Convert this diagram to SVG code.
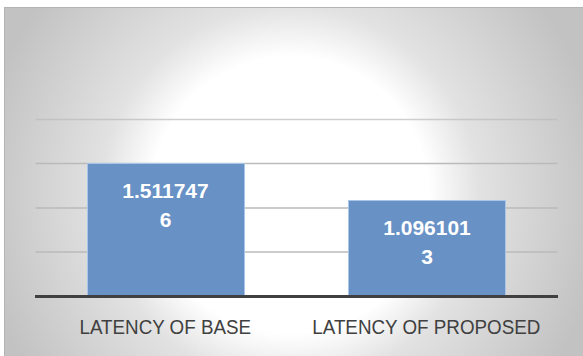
<svg xmlns="http://www.w3.org/2000/svg" width="583" height="356" viewBox="0 0 583 356">
<defs>
<radialGradient id="bg" gradientUnits="userSpaceOnUse" cx="290" cy="195" r="315">
<stop offset="0" stop-color="#ffffff"/>
<stop offset="0.44" stop-color="#ffffff"/>
<stop offset="0.6" stop-color="#e2e2e2"/>
<stop offset="1" stop-color="#c2c2c2"/>
</radialGradient>
<style>
.grid{stroke:#bababa;stroke-width:1.5;fill:none}
.bar{fill:#6891c6;stroke:#a9c5ea;stroke-width:1}
.val{font-family:"Liberation Sans",Arial,sans-serif;font-weight:bold;font-size:21px;fill:#ffffff;text-anchor:middle}
.cat{font-family:"Liberation Sans",Arial,sans-serif;font-size:20.5px;fill:#404040}
</style>
</defs>
<rect x="0" y="0" width="583" height="356" fill="#ffffff"/>
<rect x="4.5" y="7.5" width="590" height="360" fill="url(#bg)" stroke="#b4b4b4" stroke-width="1"/>
<g id="gridlines">
<line class="grid" x1="35.5" y1="119.5" x2="557.5" y2="119.5" stroke-opacity="0.7"/>
<line class="grid" x1="35.5" y1="163.5" x2="557.5" y2="163.5"/>
<line class="grid" x1="35.5" y1="208" x2="557.5" y2="208"/>
<line class="grid" x1="35.5" y1="252" x2="557.5" y2="252"/>
</g>
<g id="bar-base">
<rect class="bar" x="87.5" y="163.5" width="157" height="132.5"/>
<text class="val" x="165.5" y="198.3">1.511747</text>
<text class="val" x="165.5" y="227.3">6</text>
</g>
<g id="bar-proposed">
<rect class="bar" x="348.5" y="200.5" width="157" height="95.5"/>
<text class="val" x="427" y="235">1.096101</text>
<text class="val" x="427" y="264">3</text>
</g>
<g id="axis">
<line x1="35" y1="296.5" x2="558" y2="296.5" stroke="#404040" stroke-width="3"/>
</g>
<g id="labels">
<text class="cat" x="79.5" y="334.3" textLength="171.5" lengthAdjust="spacingAndGlyphs">LATENCY OF BASE</text>
<text class="cat" x="312.3" y="334.3" textLength="228" lengthAdjust="spacingAndGlyphs">LATENCY OF PROPOSED</text>
</g>
</svg>
